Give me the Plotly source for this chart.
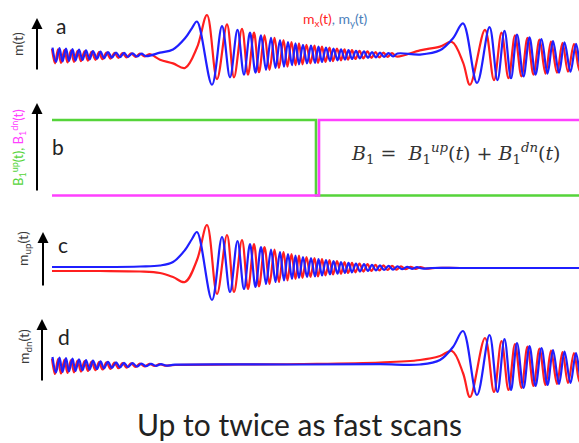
import plotly.graph_objects as go

# ---------------- data (time in a.u., magnetisation in a.u.) ----------------
# panel c : m_up(t)  (extrema)
c_blue = [(52, 1), (100, 1), (140, 1.5), (160, 2.5), (173, 6), (185, 18), (192, 29),
          (197, 36), (212, -32), (222, 31), (230, -24), (237.5, 27), (244, -21), (250, 24),
          (255.5, -19), (261, 21), (266, -16), (271, 18.5), (275.5, -14), (280, 16),
          (284, -12.5), (288, 14), (292, -11), (295.5, 12.5), (299, -10), (303, 11),
          (307, -9), (311, 10), (315, -8.5), (318.5, 9), (322, -7.5), (326, 8), (330, -6.5),
          (333.5, 7), (337.5, -5.7), (341, 6), (345, -5), (348.5, 5.2), (352, -4.3),
          (356, 4.5), (360, -3.6), (364, 3.8), (368, -3), (372, 3.2), (376, -2.5),
          (380, 2.6), (384, -2), (388.5, 2.1), (393, -1.6), (397.5, 1.6), (402, -1.2),
          (407, 1.2), (412, -0.8), (417, 0.8), (422, -0.5),
          (432, 0), (460, 0), (500, 0), (540, 0), (580, 0)]
c_red = [(52, -3), (100, -3), (140, -3.5), (160, -5), (173, -9), (185, -14), (197, 8),
         (207, 43), (217, -26), (227, 33), (234, -24), (242, 28), (248, -21), (254, 24),
         (259, -18.5), (264.5, 21), (269.5, -16), (274.5, 18.5), (279, -14), (283.5, 16),
         (287.5, -12.5), (291.5, 14), (295.5, -11), (299, 12.5), (302.5, -10), (306.5, 11),
         (310.5, -9), (314.5, 10), (318, -8.5), (322, 9), (325.5, -7.5), (329.5, 8),
         (333, -6.5), (337, 7), (341, -5.7), (344.5, 6), (348, -5), (352, 5.2),
         (355.5, -4.3), (359.5, 4.5), (363.5, -3.6), (367.5, 3.8), (371.5, -3),
         (375.5, 3.2), (379.5, -2.5), (383.5, 2.6), (387.5, -2), (392, 2.1), (396.5, -1.6),
         (401, 1.6), (405.5, -1.2), (410.5, 1.2), (415.5, -0.8), (420.5, 0.8),
         (425.5, -0.5), (435, 0), (460, 0), (580, 0)]

# panel d : m_dn(t)
d_blue = [(52.5, 8), (56, -7.5), (59.5, 7.5), (62.5, -7), (66, 7), (69, -6.5), (72.5, 6.3),
          (75.5, -6), (79, 5.7), (82.5, -5.3), (86, 5), (89.5, -4.7), (93, 4.3), (97, -4),
          (100.5, 3.7), (104, -3.4), (108, 3.2), (112, -2.9), (116, 2.7), (120, -2.4),
          (124, 2.2), (128, -2), (132.5, 1.8), (137, -1.6), (141.5, 1.4), (146, -1.2),
          (151, 1.1), (156, -0.9), (161, 0.8), (166, -0.6),
          (175, 0.3), (300, 0.5), (380, 0.8), (420, 0.5), (440, 5), (453, 18),
          (463, 34), (477, -30), (489.5, 30), (497.5, -27), (504.5, 26), (511, -25),
          (517, 22), (523.5, -23), (529.5, 19), (535.5, -21), (541.5, 17), (547.5, -20),
          (553, 15), (559, -19), (564.5, 13.5), (570.5, -18), (576, 12), (581.5, -17),
          (587, 11)]
d_red = [(52, 6.5), (55, -9), (58, 6), (61, -8.5), (64.5, 5.5), (67.5, -8), (71, 5),
         (74, -7.3), (77.5, 4.5), (81, -6.6), (84.5, 4), (88, -6), (91.5, 3.5), (95.5, -5.2),
         (99, 3), (102.5, -4.5), (106.5, 2.7), (110.5, -3.8), (114.5, 2.3), (118.5, -3.2),
         (122.5, 2), (126.5, -2.6), (131, 1.7), (135.5, -2), (140, 1.4), (144.5, -1.5),
         (149.5, 1.1), (154.5, -1), (159.5, 0.8), (164.5, -0.6),
         (175, 0), (300, 1), (380, 2.5), (420, 5), (440, 9), (452, 14), (463, -8),
         (470, -32), (485, 27), (494, -27), (501.5, 24), (508.5, -25), (515, 21),
         (521.5, -23), (527.5, 18.5), (533.5, -21), (539.5, 16.5), (545.5, -20),
         (551, 14.5), (557, -19), (562.5, 13), (568, -18), (574, 12), (579.5, -17),
         (585, 11)]

# panel b : B1 up / dn switching
b_up = [(52, 1), (316, 1), (316, 0), (580, 0)]
b_dn = [(52, 0), (319, 0), (319, 1), (580, 1)]

# panel a uses the m_dn part outside and the m_up part inside this window
a_window = (150, 400)

# ---------------- styling ----------------
RED = "#ff1f1f"
BLUE = "#1f1fff"
GREEN = "#55d43a"
MAGENTA = "#ff40ff"
TXT = "#3a3a3a"
W, H = 579, 443

def unzip(p):
    return [q[0] for q in p], [q[1] for q in p]

def seg(p, lo, hi):
    return [q for q in p if lo <= q[0] < hi]

fig = go.Figure()

def add(p, color, yax, shape="spline", width=2.2):
    t, m = unzip(p)
    fig.add_trace(go.Scatter(x=t, y=m, mode="lines", yaxis=yax, xaxis="x",
                             line=dict(color=color, width=width, shape=shape),
                             hoverinfo="skip", showlegend=False))

lo, hi = a_window
a_red = seg(d_red, 0, lo) + seg(c_red, lo, hi) + seg(d_red, hi, 1e9)
a_blue = seg(d_blue, 0, lo) + seg(c_blue, lo, hi) + seg(d_blue, hi, 1e9)

add(a_red, RED, "y")
add(a_blue, BLUE, "y")
add(b_up, GREEN, "y2", shape="linear", width=2.6)
add(b_dn, MAGENTA, "y2", shape="linear", width=2.6)
add(c_red, RED, "y3")
add(c_blue, BLUE, "y3")
add(d_red, RED, "y4")
add(d_blue, BLUE, "y4")

def yaxis(row_top, row_bot, zero_row, px_per_unit):
    dom = [1 - row_bot / H, 1 - row_top / H]
    rng = [(zero_row - row_bot) / px_per_unit, (zero_row - row_top) / px_per_unit]
    return dict(domain=dom, range=rng, visible=False, anchor="x", fixedrange=True)

layout = dict(
    width=W, height=H, margin=dict(l=0, r=0, t=0, b=0),
    paper_bgcolor="white", plot_bgcolor="rgba(0,0,0,0)",
    xaxis=dict(domain=[0, 1], range=[0, W], visible=False, anchor="y"),
    yaxis=yaxis(0, 100, 55, 0.93),
    yaxis2=yaxis(98, 208, 195.5, 75.5),
    yaxis3=yaxis(210, 318, 268, 1.0),
    yaxis4=yaxis(312, 412, 365, 1.0),
)
fig.update_layout(**layout)

def px(x, y):
    return x / W, 1 - y / H

anns = []
# arrows
for (x, ytip, ybot) in [(37, 18, 71), (37, 103, 192), (43, 232, 287), (42, 319, 382)]:
    ax_, ay_ = px(x, ytip)
    anns.append(dict(x=ax_, y=ay_, xref="paper", yref="paper", text="", showarrow=True,
                     ax=0, ay=ybot - ytip, axref="pixel", ayref="pixel",
                     arrowhead=2, arrowsize=1.1, arrowwidth=2, arrowcolor="black"))

def text(x, y, s, size, color=TXT, angle=0, family="Lato", xanchor="center"):
    xx, yy = px(x, y)
    anns.append(dict(x=xx, y=yy, xref="paper", yref="paper", text=s, showarrow=False,
                     textangle=angle, xanchor=xanchor, yanchor="middle",
                     font=dict(size=size, color=color, family=family)))

text(18, 44, "m(t)", 14, angle=-90)
text(18, 148, f"<span style='color:{GREEN}'>B<sub>1</sub><sup>up</sup>(t),</span> "
              f"<span style='color:{MAGENTA}'>B<sub>1</sub><sup>dn</sup>(t)</span>", 13, angle=-90)
text(24, 249, "m<sub>up</sub>(t)", 14, angle=-90)
text(24, 347, "m<sub>dn</sub>(t)", 14, angle=-90)

text(61, 25, "a", 21, color="#222")
text(58, 146, "b", 21, color="#222")
text(63, 244, "c", 21, color="#222")
text(64, 336, "d", 21, color="#222")

text(335, 20, f"<span style='color:{RED}'>m<sub>x</sub>(t)</span>"
              f"<span style='color:#4a7ebb'>, m<sub>y</sub>(t)</span>", 14)

text(455, 153, "<i>B</i><sub>1</sub> =  <i>B</i><sub>1</sub><sup><i>up</i></sup>(<i>t</i>) + "
               "<i>B</i><sub>1</sub><sup><i>dn</i></sup>(<i>t</i>)", 19, color="#333",
     family="DejaVu Serif")

text(299, 424, "Up to twice as fast scans", 30, color="#222")

fig.update_layout(annotations=anns)
fig.write_html("out.html")
